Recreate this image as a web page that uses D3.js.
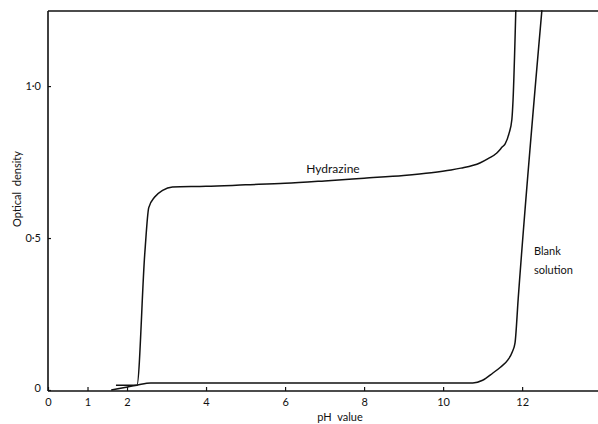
<!DOCTYPE html>
<html>
<head>
<meta charset="utf-8">
<script src="https://cdn.jsdelivr.net/npm/d3@7"></script>
<style>
  body { margin: 0; background: #fff; }
  svg text { font-family: Lato, "Open Sans", sans-serif; fill: #111; }
</style>
</head>
<body>
<svg id="chart" width="598" height="424"></svg>
<script>
// values
const hydrazinePH = [1.72, 2.25, 2.45, 2.55, 2.7, 2.9, 3.15, 4, 5, 6, 7, 8, 9, 9.7, 10.2, 10.45, 10.93, 11.15, 11.36, 11.5, 11.57, 11.67, 11.74, 11.77, 11.84];
const hydrazineOD = [0.016, 0.016, 0.45, 0.60, 0.635, 0.657, 0.668, 0.670, 0.675, 0.680, 0.688, 0.697, 0.706, 0.715, 0.724, 0.73, 0.747, 0.762, 0.78, 0.80, 0.81, 0.845, 0.89, 0.954, 1.25];

const blankPH = [1.6, 2.25, 2.6, 4, 6, 8, 10, 10.75, 11.0, 11.26, 11.45, 11.64, 11.75, 11.82, 11.9, 12.5];
const blankOD = [0.0, 0.016, 0.023, 0.023, 0.023, 0.023, 0.023, 0.023, 0.032, 0.056, 0.075, 0.099, 0.125, 0.155, 0.30, 1.25];

const xTicks = [0, 1, 2, 4, 6, 8, 10, 12];
const yTicks = [0, 0.5, 1.0];
const yTickLabels = ['0', '0·5', '1·0'];

const svg = d3.select('#chart');

const x = d3.scaleLinear().domain([0, 13.92]).range([48, 598]);
const y = d3.scaleLinear().domain([0, 1.247]).range([390, 11]);

const ink = '#111';

// frame: left axis, bottom axis, top line
svg.append('line').attr('x1', x(0)).attr('x2', x(0)).attr('y1', y(1.247)).attr('y2', y(0) + 1)
    .attr('stroke', ink).attr('stroke-width', 1.6);
svg.append('line').attr('x1', x(0)).attr('x2', 598).attr('y1', y(1.247)).attr('y2', y(1.247))
    .attr('stroke', ink).attr('stroke-width', 1.6);

const xAxis = d3.axisBottom(x).tickValues(xTicks).tickSize(-4).tickPadding(7).tickFormat(d3.format('d'));
const gx = svg.append('g').attr('transform', `translate(0,${y(0) + 1})`).call(xAxis);
gx.select('.domain').attr('d', `M${x(0)},0H598`).attr('stroke', ink).attr('stroke-width', 1.6);
gx.selectAll('.tick line').attr('stroke', ink).attr('stroke-width', 1.2);
gx.selectAll('.tick text').attr('font-size', 11).style('font-family', 'Lato, sans-serif');

const yAxis = d3.axisLeft(y).tickValues(yTicks).tickSize(3).tickPadding(4)
    .tickFormat((d, i) => yTickLabels[i]);
const gy = svg.append('g').attr('transform', `translate(${x(0)},0)`).call(yAxis);
gy.select('.domain').remove();
gy.selectAll('.tick line').attr('stroke', ink).attr('stroke-width', 1.2).attr('x2', 3);
gy.selectAll('.tick text').attr('font-size', 11).attr('x', -7).style('font-family', 'Lato, sans-serif');
gy.selectAll('.tick').filter(d => d === 0).select('text').attr('dy', '0.1em');

// curves
const line = d3.line().x(d => x(d[0])).y(d => y(d[1])).curve(d3.curveMonotoneX);

svg.append('path').datum(d3.zip(hydrazinePH, hydrazineOD)).attr('d', line)
    .attr('fill', 'none').attr('stroke', ink).attr('stroke-width', 1.5);

svg.append('path').datum(d3.zip(blankPH, blankOD)).attr('d', line)
    .attr('fill', 'none').attr('stroke', ink).attr('stroke-width', 1.5);

// labels
svg.append('text').attr('x', 333).attr('y', 173).attr('text-anchor', 'middle')
    .attr('font-size', 12).text('Hydrazine');
svg.append('text').attr('x', 534).attr('y', 255).attr('font-size', 11).text('Blank');
svg.append('text').attr('x', 534).attr('y', 274).attr('font-size', 11).text('solution');

svg.append('text').attr('x', 340).attr('y', 421).attr('text-anchor', 'middle')
    .attr('font-size', 11).attr('word-spacing', 3).text('pH value');

svg.append('text').attr('transform', 'translate(21,189) rotate(-90)').attr('text-anchor', 'middle')
    .attr('font-size', 11).attr('word-spacing', 3).text('Optical density');
</script>
</body>
</html>
